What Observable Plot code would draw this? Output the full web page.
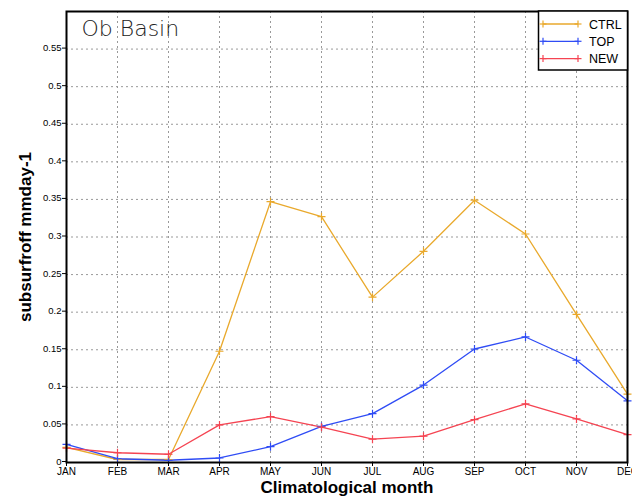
<!DOCTYPE html>
<html>
<head>
<meta charset="utf-8">
<script src="https://cdn.jsdelivr.net/npm/d3@7"></script>
<script src="https://cdn.jsdelivr.net/npm/@observablehq/plot@0.6"></script>
<style>
  html, body { margin: 0; padding: 0; background: white; }
  svg { display: block; }
</style>
</head>
<body>
<div id="chart"></div>
<script>
const months = ["JAN","FEB","MAR","APR","MAY","JUN","JUL","AUG","SEP","OCT","NOV","DEC"];
const seriesNames = ["CTRL", "TOP", "NEW"];
const seriesColors = ["#e9a92c", "#2f4cf5", "#f54452"];
const ctrlVals = [0.020, 0.004, 0.004, 0.148, 0.347, 0.327, 0.220, 0.281, 0.349, 0.304, 0.197, 0.091];
const topVals  = [0.024, 0.005, 0.003, 0.006, 0.021, 0.048, 0.065, 0.103, 0.151, 0.167, 0.136, 0.082];
const newVals  = [0.019, 0.013, 0.011, 0.050, 0.061, 0.047, 0.031, 0.035, 0.057, 0.078, 0.058, 0.037];
const yTicks = [0, 0.05, 0.1, 0.15, 0.2, 0.25, 0.3, 0.35, 0.4, 0.45, 0.5, 0.55];
const yTickLabels = ["0","0.05","0.1","0.15","0.2","0.25","0.3","0.35","0.4","0.45","0.5","0.55"];
const titleText = "Ob Basin";
const xLabel = "Climatological month";
const yLabel = "subsurfroff mmday-1";

const valueLists = [ctrlVals, topVals, newVals];
const data = [];
seriesNames.forEach((name, s) => valueLists[s].forEach((v, i) => data.push({series: name, m: i, v})));
const monthIdx = months.map((_, i) => i);

const font = "'Liberation Sans', Arial, sans-serif";

const chart = Plot.plot({
  width: 632,
  height: 502,
  marginLeft: 66,
  marginRight: 5,
  marginTop: 11,
  marginBottom: 40,
  style: {background: "white", fontFamily: font, color: "black"},
  x: {domain: [0, 11], label: null},
  y: {domain: [0, 0.6], label: null},
  color: {domain: seriesNames, range: seriesColors},
  marks: [
    Plot.gridX(monthIdx, {stroke: "#999", strokeOpacity: 1, strokeDasharray: "2,3"}),
    Plot.gridY(yTicks.slice(1), {stroke: "#999", strokeOpacity: 1, strokeDasharray: "2,3"}),
    Plot.line(data, {x: "m", y: "v", z: "series", stroke: "series", strokeWidth: 1.3}),
    Plot.dot(data, {x: "m", y: "v", stroke: "series", symbol: "plus", r: 2.7, strokeWidth: 1.2}),
    Plot.axisX(monthIdx, {tickFormat: i => months[i], tickSize: 4, tickPadding: 1, fontSize: 10, label: null}),
    Plot.axisY(yTicks, {tickFormat: (d, i) => yTickLabels[i], tickSize: 4, tickPadding: 1, fontSize: 9.5, label: null, dy: -1}),
    Plot.frame({stroke: "black", strokeWidth: 2}),
    Plot.text([titleText], {frameAnchor: "top-left", dx: 15, dy: 9, fontSize: 22, fontWeight: 200,
      fill: "#222", textAnchor: "start", lineAnchor: "top",
      fontFamily: "'DejaVu Sans', sans-serif", style: "letter-spacing:3px"}),
    Plot.text([xLabel], {frameAnchor: "bottom", dy: 30, fontSize: 17, fontWeight: "bold", fill: "black"}),
    Plot.text([yLabel], {frameAnchor: "left", dx: -41, rotate: -90, textAnchor: "middle", fontSize: 17, fontWeight: "bold", fill: "black"})
  ]
});

document.getElementById("chart").appendChild(chart);

// legend box (top-right, inside frame)
const svg = d3.select(chart);
const lg = svg.append("g").attr("font-family", font).attr("text-anchor", "start");
const bx = 538.5, by = 11, bw = 89, bh = 59;
lg.append("rect").attr("x", bx).attr("y", by).attr("width", bw).attr("height", bh)
  .attr("fill", "white").attr("stroke", "black").attr("stroke-width", 1.5);
seriesNames.forEach((name, i) => {
  const yy = 24 + i * 17.3;
  const c = seriesColors[i];
  lg.append("line").attr("x1", 543).attr("x2", 578).attr("y1", yy).attr("y2", yy)
    .attr("stroke", c).attr("stroke-width", 1.3);
  [543, 578].forEach(px => {
    lg.append("line").attr("x1", px - 3.5).attr("x2", px + 3.5).attr("y1", yy).attr("y2", yy).attr("stroke", c).attr("stroke-width", 1.2);
    lg.append("line").attr("x1", px).attr("x2", px).attr("y1", yy - 3.5).attr("y2", yy + 3.5).attr("stroke", c).attr("stroke-width", 1.2);
  });
  lg.append("text").attr("x", 589).attr("y", yy).attr("dy", "0.36em").attr("text-anchor", "start")
    .attr("font-size", 12.5).attr("fill", "black").text(name);
});
</script>
</body>
</html>
